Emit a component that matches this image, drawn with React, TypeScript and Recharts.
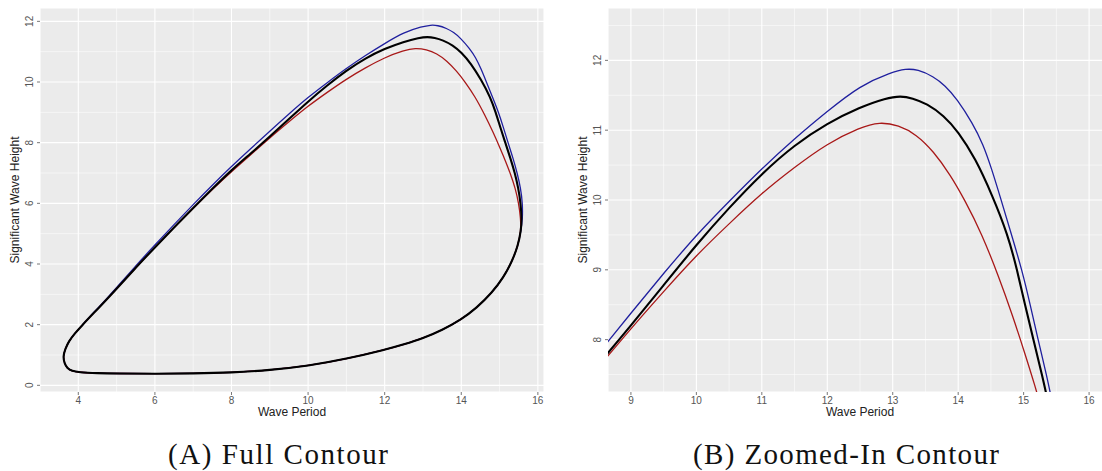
import React from "react";
import {
  ComposedChart,
  Line,
  XAxis,
  YAxis,
  CartesianGrid,
  ReferenceLine
} from "recharts";

type Pt = [number, number];

// lower branch shared by all three contours: left tip -> along the bottom -> right nose
const lowerArc: Pt[] = [
  [3.6, 0.95], [3.64, 0.72], [3.71, 0.56], [3.84, 0.47], [4.0, 0.43],
  [4.5, 0.4], [5.0, 0.39], [6.0, 0.38], [7.0, 0.39], [8.0, 0.42],
  [9.0, 0.5], [10.0, 0.64], [11.0, 0.87], [12.0, 1.17], [12.5, 1.35],
  [13.0, 1.55], [13.5, 1.82], [14.0, 2.17], [14.4, 2.55], [14.8, 3.05],
  [15.1, 3.55], [15.33, 4.1], [15.48, 4.6], [15.56, 5.1]
];

// upper branches: right nose -> over the top -> back towards the left tip (loop is closed)
const blackUpper: Pt[] = [
  [15.58, 5.5], [15.55, 6.0], [15.49, 6.5], [15.4, 7.0], [15.28, 7.5],
  [15.15, 8.0], [15.02, 8.5], [14.9, 9.0], [14.76, 9.5], [14.52, 10.07],
  [14.26, 10.6], [14.0, 10.98], [13.78, 11.21], [13.52, 11.38], [13.3, 11.46],
  [13.12, 11.49], [12.9, 11.46], [12.5, 11.33], [12.0, 11.1], [11.5, 10.79],
  [11.0, 10.38], [10.5, 9.89], [10.0, 9.36], [9.5, 8.78], [9.0, 8.2],
  [8.5, 7.64], [8.0, 7.1], [7.5, 6.48], [7.0, 5.85], [6.5, 5.2],
  [6.0, 4.55], [5.5, 3.88], [5.0, 3.18], [4.75, 2.84], [4.4, 2.38],
  [4.1, 1.98], [3.9, 1.7], [3.75, 1.45], [3.66, 1.2]
];

const blueUpper: Pt[] = [
  [15.6, 5.5], [15.6, 6.0], [15.55, 6.5], [15.46, 7.0], [15.35, 7.5],
  [15.22, 8.0], [15.1, 8.5], [14.98, 8.98], [14.8, 9.55], [14.64, 10.05],
  [14.51, 10.45], [14.38, 10.8], [14.22, 11.1], [13.98, 11.45], [13.8, 11.64],
  [13.62, 11.77], [13.38, 11.87], [13.2, 11.88], [12.98, 11.83], [12.5, 11.64],
  [12.0, 11.27], [11.5, 10.88], [11.0, 10.45], [10.5, 9.98], [10.0, 9.5],
  [9.5, 8.95], [9.0, 8.38], [8.5, 7.8], [8.0, 7.22], [7.5, 6.6],
  [7.0, 5.96], [6.5, 5.3], [6.0, 4.63], [5.5, 3.94], [5.0, 3.23],
  [4.75, 2.87], [4.4, 2.4], [4.1, 1.98], [3.9, 1.7], [3.75, 1.45], [3.66, 1.2]
];

const redUpper: Pt[] = [
  [15.55, 5.5], [15.5, 6.0], [15.41, 6.5], [15.29, 6.95], [15.17, 7.35],
  [15.02, 7.8], [14.83, 8.35], [14.62, 8.9], [14.36, 9.52], [14.1, 10.0],
  [13.88, 10.36], [13.62, 10.7], [13.36, 10.94], [13.09, 11.07], [12.8, 11.12],
  [12.5, 11.04], [12.0, 10.81], [11.5, 10.47], [11.0, 10.1], [10.5, 9.66],
  [10.0, 9.21], [9.5, 8.69], [9.0, 8.16], [8.5, 7.6], [8.0, 7.05],
  [7.5, 6.46], [7.0, 5.84], [6.5, 5.2], [6.0, 4.55], [5.5, 3.88],
  [5.0, 3.18], [4.75, 2.84], [4.4, 2.38], [4.1, 1.98], [3.9, 1.7],
  [3.75, 1.45], [3.66, 1.2]
];

const fullXTicks = [4, 6, 8, 10, 12, 14, 16];
const fullYTicks = [0, 2, 4, 6, 8, 10, 12];
const fullXMinor = [5, 7, 9, 11, 13, 15];
const fullYMinor = [1, 3, 5, 7, 9, 11];

const zoomXTicks = [9, 10, 11, 12, 13, 14, 15, 16];
const zoomYTicks = [8, 9, 10, 11, 12];
const zoomXMinor = [9.5, 10.5, 11.5, 12.5, 13.5, 14.5, 15.5];
const zoomYMinor = [7.5, 8.5, 9.5, 10.5, 11.5, 12.5];

const captions = ["(A) Full Contour", "(B) Zoomed-In Contour"];

const toRows = (pts: Pt[]) => pts.map(([x, y]) => ({ x, y }));
const blackData = toRows([...lowerArc, ...blackUpper]);
const blueData = toRows([...lowerArc, ...blueUpper]);
const redData = toRows([...lowerArc, ...redUpper]);

const SANS = '"Liberation Sans", Arial, sans-serif';
const SERIF = '"Liberation Serif", "Times New Roman", serif';

const YTick = (props: any) => {
  const { x, y, payload } = props;
  const bx = x - 2;
  return (
    <text
      x={bx}
      y={y}
      transform={`rotate(-90, ${bx}, ${y})`}
      textAnchor="middle"
      fontSize={10}
      fill="#555"
      fontFamily={SANS}
    >
      {payload.value}
    </text>
  );
};

const xTitle = (props: any) => {
  const vb = props.viewBox;
  return (
    <text
      x={vb.x + vb.width / 2}
      y={vb.y + 24}
      textAnchor="middle"
      fontSize={12}
      fill="#222"
      fontFamily={SANS}
    >
      Wave Period
    </text>
  );
};

const yTitle = (props: any) => {
  const vb = props.viewBox;
  const cx = vb.x + 19;
  const cy = vb.y + vb.height / 2;
  return (
    <text
      x={cx}
      y={cy}
      transform={`rotate(-90, ${cx}, ${cy})`}
      textAnchor="middle"
      fontSize={12}
      fill="#222"
      fontFamily={SANS}
    >
      Significant Wave Height
    </text>
  );
};

function ContourPanel(props: any) {
  const { xDomain, yDomain, xTicks, yTicks, xMinor, yMinor } = props;
  return (
    <ComposedChart
      width={560}
      height={430}
      margin={{ top: 8, right: 16, bottom: 8, left: 0 }}
    >
      <CartesianGrid fill="#EBEBEB" stroke="#FFFFFF" strokeWidth={1.1} />
      {xMinor.map((v: number) => (
        <ReferenceLine key={"mx" + v} x={v} stroke="#FFFFFF" strokeWidth={0.55} />
      ))}
      {yMinor.map((v: number) => (
        <ReferenceLine key={"my" + v} y={v} stroke="#FFFFFF" strokeWidth={0.55} />
      ))}
      <XAxis
        type="number"
        dataKey="x"
        domain={xDomain}
        ticks={xTicks}
        interval={0}
        allowDataOverflow
        height={30}
        axisLine={false}
        tickSize={3}
        tickLine={{ stroke: "#555", strokeWidth: 0.8 }}
        tick={{ fontSize: 10, fill: "#555", fontFamily: SANS }}
        label={xTitle}
      />
      <YAxis
        type="number"
        dataKey="y"
        domain={yDomain}
        ticks={yTicks}
        interval={0}
        allowDataOverflow
        width={40}
        axisLine={false}
        tickSize={3}
        tickLine={{ stroke: "#555", strokeWidth: 0.8 }}
        tick={<YTick />}
        label={yTitle}
      />
      <Line
        data={blueData}
        dataKey="y"
        type="basisClosed"
        stroke="#1f1f9e"
        strokeWidth={1.3}
        dot={false}
        activeDot={false}
        isAnimationActive={false}
      />
      <Line
        data={redData}
        dataKey="y"
        type="basisClosed"
        stroke="#a81818"
        strokeWidth={1.3}
        dot={false}
        activeDot={false}
        isAnimationActive={false}
      />
      <Line
        data={blackData}
        dataKey="y"
        type="basisClosed"
        stroke="#000000"
        strokeWidth={2.1}
        dot={false}
        activeDot={false}
        isAnimationActive={false}
      />
    </ComposedChart>
  );
}

export default function App() {
  return (
    <div
      style={{
        position: "absolute",
        left: 0,
        top: 0,
        width: 1102,
        height: 471,
        overflow: "hidden",
        background: "#fff"
      }}
    >
      <div style={{ position: "absolute", left: 0, top: 0 }}>
        <ContourPanel
          xDomain={[3.0, 16.16]}
          yDomain={[-0.22, 12.44]}
          xTicks={fullXTicks}
          yTicks={fullYTicks}
          xMinor={fullXMinor}
          yMinor={fullYMinor}
        />
      </div>
      <div style={{ position: "absolute", left: 568, top: 0 }}>
        <ContourPanel
          xDomain={[8.65, 16.35]}
          yDomain={[7.25, 12.75]}
          xTicks={zoomXTicks}
          yTicks={zoomYTicks}
          xMinor={zoomXMinor}
          yMinor={zoomYMinor}
        />
      </div>
      <svg
        width={1102}
        height={471}
        style={{ position: "absolute", left: 0, top: 0, pointerEvents: "none" }}
      >
        <text
          x={278}
          y={464}
          textAnchor="middle"
          fontSize={29}
          fontFamily={SERIF}
          fill="#111"
          textLength={220}
          lengthAdjust="spacing"
        >
          {captions[0]}
        </text>
        <text
          x={846}
          y={464}
          textAnchor="middle"
          fontSize={29}
          fontFamily={SERIF}
          fill="#111"
          textLength={306}
          lengthAdjust="spacing"
        >
          {captions[1]}
        </text>
      </svg>
    </div>
  );
}
